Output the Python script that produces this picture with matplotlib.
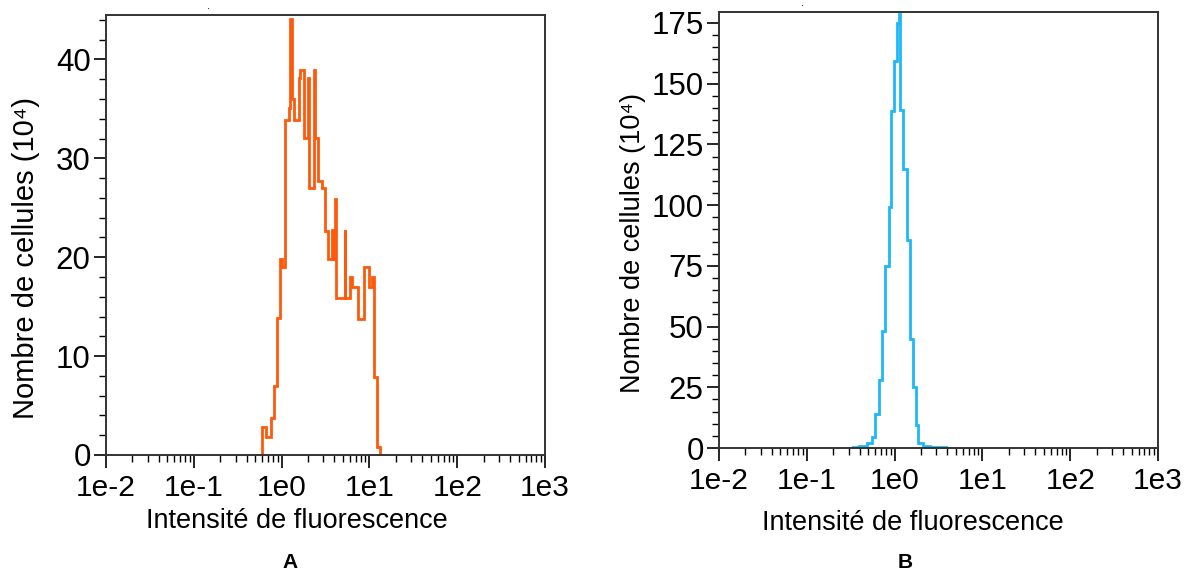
import numpy as np
import matplotlib.pyplot as plt
from matplotlib.ticker import FixedLocator, MultipleLocator

plt.rcParams['font.family'] = ['Liberation Sans', 'DejaVu Sans']

# histogram A (orange): bin edges as log10(intensity), counts in 10^4 cells
edges_a = [-0.227, -0.183, -0.126, -0.089, -0.051, -0.020, 0.000, 0.044, 0.082,
           0.101, 0.119, 0.146, 0.196, 0.215, 0.253, 0.298, 0.317, 0.366, 0.385,
           0.411, 0.460, 0.490, 0.528, 0.573, 0.582, 0.605, 0.615, 0.717, 0.727,
           0.774, 0.800, 0.868, 0.944, 0.990, 1.035, 1.047, 1.085, 1.120]
counts_a = [2.8, 1.8, 3.7, 7.0, 13.9, 19.8, 19.0, 33.9, 35.1,
            44.1, 36.0, 33.9, 38.1, 38.9, 32.1, 38.1, 27.0, 38.9,
            32.1, 27.7, 27.0, 22.7, 19.8, 22.8, 19.8, 25.9, 15.9, 22.8,
            15.9, 18.0, 17.0, 13.8, 19.0, 17.0, 18.0, 7.9, 0.8]

# histogram B (blue)
edges_b = [-0.470, -0.400, -0.317, -0.260, -0.224, -0.174, -0.140, -0.109, -0.060,
           -0.041, -0.007, 0.024, 0.045, 0.061, 0.100, 0.144, 0.174, 0.205,
           0.243, 0.269, 0.326, 0.400, 0.590]
counts_b = [0.3, 0.8, 2.0, 4.6, 14.2, 27.8, 48.2, 74.8, 99.3,
            138.9, 159.3, 175.0, 178.5, 139.0, 115.0, 85.7, 45.0, 25.2,
            9.5, 1.9, 0.8, 0.3]

xticks = [1e-2, 1e-1, 1e0, 1e1, 1e2, 1e3]
xticklabels = ['1e-2', '1e-1', '1e0', '1e1', '1e2', '1e3']

W, H = 1194, 574
fig = plt.figure(figsize=(W / 100, H / 100), dpi=100)


def make_axes(left, right, top, bottom):
    return fig.add_axes([left / W, 1 - bottom / H, (right - left) / W, (bottom - top) / H])


def style(ax, ymax, major, minor):
    ax.set_xscale('log')
    ax.set_xlim(1e-2, 1e3)
    ax.set_ylim(0, ymax)
    ax.xaxis.set_major_locator(FixedLocator(xticks))
    ax.set_xticklabels(xticklabels)
    minors = [m * 10.0 ** e for e in range(-2, 3) for m in range(2, 10)]
    ax.xaxis.set_minor_locator(FixedLocator(minors))
    ax.yaxis.set_major_locator(MultipleLocator(major))
    ax.yaxis.set_minor_locator(MultipleLocator(minor))
    ax.tick_params(which='major', length=9, width=1.2, pad=2)
    ax.tick_params(which='minor', length=5, width=1.0)
    ax.tick_params(axis='y', which='major', labelsize=22.5)
    ax.tick_params(axis='x', which='major', labelsize=21.5, pad=5)
    for s in ax.spines.values():
        s.set_linewidth(1.4)
        s.set_color('#333333')


def fig_text(x, y, s, **kw):
    fig.text(x / W, 1 - y / H, s, ha='center', va='center', **kw)


ax1 = make_axes(106, 545, 15, 455)
ax1.stairs(counts_a, 10 ** np.array(edges_a), color='#FF5A0A', linewidth=2.0)
style(ax1, 44.5, 10, 2)
fig_text(208, 6, '.', fontsize=8)

ax2 = make_axes(719, 1158, 12, 448)
ax2.stairs(counts_b, 10 ** np.array(edges_b), color='#1EB8F8', linewidth=2.0)
style(ax2, 179.5, 25, 5)
fig_text(802, 3, '.', fontsize=8)

fig_text(297, 521, 'Intensité de fluorescence', fontsize=19.5)
fig_text(913, 523, 'Intensité de fluorescence', fontsize=19.5)
fig_text(26, 258, 'Nombre de cellules (10⁴)', fontsize=21, rotation=90)
fig_text(633, 243, 'Nombre de cellules (10⁴)', fontsize=19.5, rotation=90)
fig_text(290, 562, 'A', fontsize=15, fontweight='bold')
fig_text(905, 562, 'B', fontsize=15, fontweight='bold')

fig.savefig('out.png', dpi=100)
